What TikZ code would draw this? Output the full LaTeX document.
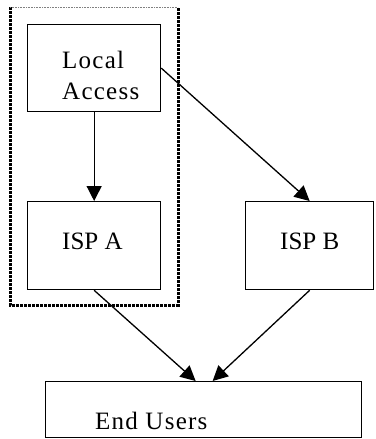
\documentclass[tikz,border=0pt]{standalone}
\usepackage{fontspec}
\setmainfont{Liberation Serif}
\newfontfamily\widefont[LetterSpace=5]{Liberation Serif}
\usetikzlibrary{arrows.meta}

\tikzset{box/.style 2 args={
    draw,
    line width=1.3pt,
    rectangle,
    anchor=north west,
    inner sep=0pt,
    minimum width=#1,
    minimum height=#2
}}
\tikzset{lbl/.style={
    font=\fontsize{25}{31}\selectfont,
    anchor=base west,
    inner sep=0pt,
    align=left
}}
\tikzset{link/.style={-{Triangle[length=15pt,width=15pt]}, line width=1.3pt}}

\begin{document}
\begin{tikzpicture}[x=1pt,y=-1pt]
    \useasboundingbox (0,0) rectangle (375,439);

    % The group round local access and ISP A.
    \draw[line width=3pt, dash pattern=on 3pt off 1pt] (10,7) -- (10,305) -- (178,305) -- (178,7);
    \draw[gray, densely dotted, line width=0.6pt] (10,7) -- (178,7);

    % Boxes, placed by their top left corner.
    \node[box={133pt}{87pt}] (local) at (27,24) {};
    \node[box={133pt}{88pt}] (ispa) at (27,201) {};
    \node[box={128pt}{88pt}] (ispb) at (245,201) {};
    \node[box={316pt}{56pt}] (users) at (45,381) {};

    % Texts, placed by their baseline.
    \node[lbl] (local-txt) at (62,68) {\widefont Local};
    \node[lbl] (access-txt) at (62,99) {\widefont Access};
    \node[lbl] (ispa-txt) at (62,249) {ISP A};
    \node[lbl] (ispb-txt) at (280,249) {ISP B};
    \node[lbl] (users-txt) at (95,429) {\widefont End Users};

    % Connectors.
    \draw[link] (local.south) -- (ispa.north);
    \draw[link] (local.east) -- (ispb.north);
    \draw[link] (ispa.south) -- ([xshift=-8pt]users.north);
    \draw[link] (ispb.south) -- ([xshift=9pt]users.north);

\end{tikzpicture}
\end{document}
